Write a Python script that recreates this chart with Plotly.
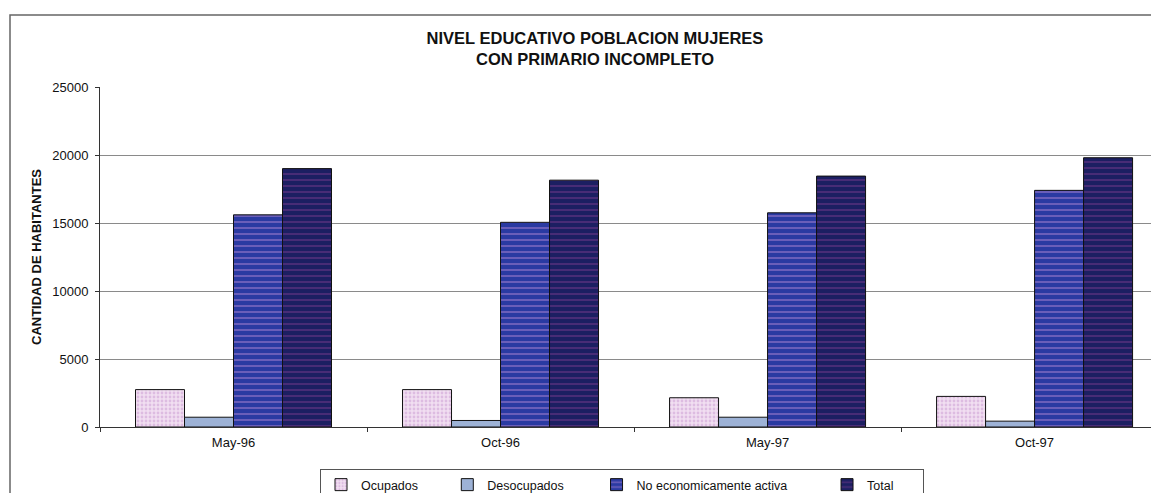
import plotly.graph_objects as go

# ---- data ----
periodos = ["May-96", "Oct-96", "May-97", "Oct-97"]
ocupados = [2750, 2750, 2150, 2250]
desocupados = [720, 480, 720, 430]
no_econ_activa = [15600, 15050, 15750, 17400]
total = [19000, 18150, 18450, 19800]
series_names = ["Ocupados", "Desocupados", "No economicamente activa", "Total"]
y_ticks = [0, 5000, 10000, 15000, 20000, 25000]
y_tick_labels = ["0", "5000", "10000", "15000", "20000", "25000"]

title_text = "NIVEL EDUCATIVO POBLACION MUJERES<br>CON PRIMARIO INCOMPLETO"
y_title = "CANTIDAD DE HABITANTES"

FONT = "Liberation Sans, Arial, sans-serif"
NB = "\u00a0"
legend_pad = [7, 8, 10, 7]

styles = [
    dict(color="#efd8ef", pattern=dict(shape=".", fgcolor="#c99ad2", bgcolor="#f1dff1", size=4, solidity=0.4)),
    dict(color="#9db2d6"),
    dict(color="#2a3aa2", pattern=dict(shape="-", fgcolor="#b88ad6", bgcolor="#2a3aa2", size=6, solidity=0.3)),
    dict(color="#1c1f62", pattern=dict(shape="-", fgcolor="#7e3c8e", bgcolor="#1c1f62", size=6, solidity=0.3)),
]

fig = go.Figure()
for name, vals, st, pad in zip(series_names, [ocupados, desocupados, no_econ_activa, total], styles, legend_pad):
    marker = dict(st)
    marker["line"] = dict(color="#111111", width=1)
    fig.add_trace(go.Bar(
        x=periodos, y=vals, name=name + NB * pad, marker=marker,
    ))

# the page body adds an 8px margin; work in page pixels and subtract it
OFF = 8
W, H = 1159 - OFF, 493 - OFF
PL, PR, PT, PB = 100, 1159, 87, 427   # plot area in page pixels
L, R, T, B = PL - OFF, 0, PT - OFF, H - (PB - OFF)
plot_w = W - L - R
plot_h = H - T - B


def px_x(px):
    return (px - OFF - L) / plot_w


def px_y(py):
    return (H - B - (py - OFF)) / plot_h


fig.update_layout(
    width=W, height=H,
    margin=dict(l=L, r=R, t=T, b=B, autoexpand=False),
    paper_bgcolor="white", plot_bgcolor="white",
    font=dict(family=FONT, size=13, color="#111111"),
    barmode="group", bargap=0.266, bargroupgap=0,
    title=dict(text=title_text, x=(595 - OFF) / W, xanchor="center", xref="container",
               y=1 - (44 - OFF) / H, yanchor="middle", yref="container",
               font=dict(family=FONT, size=16.5, color="#111111", weight="bold")),
    legend=dict(orientation="h", x=px_x(320), xanchor="left", y=px_y(469), yanchor="top",
                bordercolor="#555555", borderwidth=1, bgcolor="white",
                font=dict(family=FONT, size=12.5, color="#111111"),
                traceorder="normal"),
    xaxis=dict(type="category", range=[-0.5, 3.466], showline=True, linecolor="#333333",
               linewidth=1, ticks="outside", tickson="boundaries", ticklen=4,
               tickcolor="#333333", showgrid=False, ticklabelstandoff=3,
               tickfont=dict(family=FONT, size=13, color="#111111")),
    yaxis=dict(range=[0, 25000], tickvals=y_ticks, ticktext=y_tick_labels, showline=True,
               linecolor="#333333", linewidth=1, ticks="outside", ticklen=4, tickcolor="#333333",
               showgrid=True, gridcolor="#8a8a8a", gridwidth=1, zeroline=False,
               tickfont=dict(family=FONT, size=13, color="#111111"),
               ticklabelstandoff=4,
               title=dict(text=y_title, standoff=7,
                          font=dict(family=FONT, size=13, color="#111111", weight="bold"))),
    showlegend=True,
)

# outer chart frame (left and top edges visible; the rest is cut off)
fig.add_shape(type="path", xref="paper", yref="paper",
              path=f"M {px_x(10)},{px_y(520)} L {px_x(10)},{px_y(15)} L {px_x(1200)},{px_y(15)}",
              line=dict(color="#666666", width=1.5))

fig.write_html("out.html")
